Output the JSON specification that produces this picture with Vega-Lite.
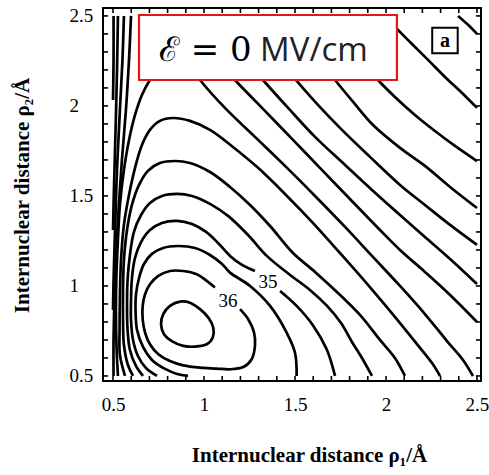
{
"$schema": "https://vega.github.io/schema/vega-lite/v6.json",
"width": 378, "height": 373,
"autosize": {"type": "none"},
"padding": {"left": 103, "top": 8, "right": 8, "bottom": 94},
"background": "white",
"config": {"view": {"stroke": "black", "strokeWidth": 2}},
"datasets": {
"ticks": [{"v":0.5},{"v":0.6},{"v":0.7},{"v":0.8},{"v":0.9},{"v":1.0},{"v":1.1},{"v":1.2},{"v":1.3},{"v":1.4},{"v":1.5},{"v":1.6},{"v":1.7},{"v":1.8},{"v":1.9},{"v":2.0},{"v":2.1},{"v":2.2},{"v":2.3},{"v":2.4},{"v":2.5}],
"loop": [
{"i":0,"x":0.764,"y":0.787},{"i":1,"x":0.776,"y":0.843},{"i":2,"x":0.813,"y":0.889},{"i":3,"x":0.868,"y":0.913},{"i":4,"x":0.923,"y":0.907},{"i":5,"x":0.978,"y":0.871},{"i":6,"x":1.024,"y":0.824},{"i":7,"x":1.051,"y":0.768},{"i":8,"x":1.048,"y":0.713},{"i":9,"x":1.015,"y":0.676},{"i":10,"x":0.951,"y":0.663},{"i":11,"x":0.886,"y":0.667},{"i":12,"x":0.823,"y":0.694},{"i":13,"x":0.780,"y":0.732}
],
"lines": [
{"c":"C2","i":0,"x":1.060,"y":0.991},{"c":"C2","i":1,"x":1.015,"y":1.028},{"c":"C2","i":2,"x":0.960,"y":1.065},{"c":"C2","i":3,"x":0.886,"y":1.083},{"c":"C2","i":4,"x":0.813,"y":1.083},{"c":"C2","i":5,"x":0.749,"y":1.056},{"c":"C2","i":6,"x":0.703,"y":1.009},{"c":"C2","i":7,"x":0.676,"y":0.954},{"c":"C2","i":8,"x":0.663,"y":0.889},{"c":"C2","i":9,"x":0.663,"y":0.815},{"c":"C2","i":10,"x":0.676,"y":0.741},{"c":"C2","i":11,"x":0.703,"y":0.676},{"c":"C2","i":12,"x":0.749,"y":0.621},{"c":"C2","i":13,"x":0.813,"y":0.583},{"c":"C2","i":14,"x":0.886,"y":0.559},{"c":"C2","i":15,"x":0.978,"y":0.546},{"c":"C2","i":16,"x":1.070,"y":0.541},{"c":"C2","i":17,"x":1.143,"y":0.537},{"c":"C2","i":18,"x":1.216,"y":0.550},{"c":"C2","i":19,"x":1.262,"y":0.593},{"c":"C2","i":20,"x":1.280,"y":0.667},{"c":"C2","i":21,"x":1.275,"y":0.741},{"c":"C2","i":22,"x":1.243,"y":0.815},{"c":"C2","i":23,"x":1.198,"y":0.871},
{"c":"C3","i":0,"x":0.912,"y":0.500},{"c":"C3","i":1,"x":0.852,"y":0.511},{"c":"C3","i":2,"x":0.786,"y":0.539},{"c":"C3","i":3,"x":0.714,"y":0.589},{"c":"C3","i":4,"x":0.665,"y":0.661},{"c":"C3","i":5,"x":0.632,"y":0.756},{"c":"C3","i":6,"x":0.624,"y":0.856},{"c":"C3","i":7,"x":0.626,"y":0.950},{"c":"C3","i":8,"x":0.643,"y":1.044},{"c":"C3","i":9,"x":0.670,"y":1.122},{"c":"C3","i":10,"x":0.714,"y":1.178},{"c":"C3","i":11,"x":0.775,"y":1.211},{"c":"C3","i":12,"x":0.857,"y":1.222},{"c":"C3","i":13,"x":0.951,"y":1.211},{"c":"C3","i":14,"x":1.033,"y":1.172},{"c":"C3","i":15,"x":1.099,"y":1.122},{"c":"C3","i":16,"x":1.143,"y":1.074},{"c":"C3","i":17,"x":1.253,"y":1.000},{"c":"C3","i":18,"x":1.363,"y":0.889},{"c":"C3","i":19,"x":1.454,"y":0.741},{"c":"C3","i":20,"x":1.500,"y":0.629},{"c":"C3","i":21,"x":1.509,"y":0.500},
{"c":"C4a","i":0,"x":0.742,"y":0.500},{"c":"C4a","i":1,"x":0.681,"y":0.544},{"c":"C4a","i":2,"x":0.637,"y":0.611},{"c":"C4a","i":3,"x":0.610,"y":0.700},{"c":"C4a","i":4,"x":0.599,"y":0.811},{"c":"C4a","i":5,"x":0.599,"y":0.922},{"c":"C4a","i":6,"x":0.604,"y":1.044},{"c":"C4a","i":7,"x":0.621,"y":1.156},{"c":"C4a","i":8,"x":0.654,"y":1.244},{"c":"C4a","i":9,"x":0.703,"y":1.311},{"c":"C4a","i":10,"x":0.769,"y":1.350},{"c":"C4a","i":11,"x":0.852,"y":1.361},{"c":"C4a","i":12,"x":0.934,"y":1.344},{"c":"C4a","i":13,"x":1.011,"y":1.300},{"c":"C4a","i":14,"x":1.077,"y":1.239},{"c":"C4a","i":15,"x":1.143,"y":1.167},{"c":"C4a","i":16,"x":1.209,"y":1.117},{"c":"C4a","i":17,"x":1.280,"y":1.083},
{"c":"C4b","i":0,"x":1.418,"y":0.972},{"c":"C4b","i":1,"x":1.509,"y":0.889},{"c":"C4b","i":2,"x":1.601,"y":0.778},{"c":"C4b","i":3,"x":1.674,"y":0.648},{"c":"C4b","i":4,"x":1.720,"y":0.500},
{"c":"C5","i":0,"x":0.665,"y":0.500},{"c":"C5","i":1,"x":0.626,"y":0.556},{"c":"C5","i":2,"x":0.593,"y":0.644},{"c":"C5","i":3,"x":0.580,"y":0.756},{"c":"C5","i":4,"x":0.577,"y":0.894},{"c":"C5","i":5,"x":0.580,"y":1.033},{"c":"C5","i":6,"x":0.593,"y":1.172},{"c":"C5","i":7,"x":0.615,"y":1.300},{"c":"C5","i":8,"x":0.654,"y":1.394},{"c":"C5","i":9,"x":0.703,"y":1.461},{"c":"C5","i":10,"x":0.769,"y":1.500},{"c":"C5","i":11,"x":0.852,"y":1.511},{"c":"C5","i":12,"x":0.934,"y":1.500},{"c":"C5","i":13,"x":1.033,"y":1.456},{"c":"C5","i":14,"x":1.132,"y":1.389},{"c":"C5","i":15,"x":1.242,"y":1.283},{"c":"C5","i":16,"x":1.345,"y":1.167},{"c":"C5","i":17,"x":1.473,"y":1.061},{"c":"C5","i":18,"x":1.582,"y":0.978},{"c":"C5","i":19,"x":1.676,"y":0.889},{"c":"C5","i":20,"x":1.753,"y":0.794},{"c":"C5","i":21,"x":1.813,"y":0.689},{"c":"C5","i":22,"x":1.868,"y":0.600},{"c":"C5","i":23,"x":1.923,"y":0.500},
{"c":"C6","i":0,"x":0.610,"y":0.500},{"c":"C6","i":1,"x":0.582,"y":0.561},{"c":"C6","i":2,"x":0.560,"y":0.672},{"c":"C6","i":3,"x":0.555,"y":0.811},{"c":"C6","i":4,"x":0.555,"y":0.978},{"c":"C6","i":5,"x":0.560,"y":1.144},{"c":"C6","i":6,"x":0.577,"y":1.311},{"c":"C6","i":7,"x":0.604,"y":1.450},{"c":"C6","i":8,"x":0.643,"y":1.561},{"c":"C6","i":9,"x":0.692,"y":1.639},{"c":"C6","i":10,"x":0.758,"y":1.683},{"c":"C6","i":11,"x":0.841,"y":1.694},{"c":"C6","i":12,"x":0.923,"y":1.683},{"c":"C6","i":13,"x":1.033,"y":1.633},{"c":"C6","i":14,"x":1.143,"y":1.550},{"c":"C6","i":15,"x":1.253,"y":1.450},{"c":"C6","i":16,"x":1.363,"y":1.333},{"c":"C6","i":17,"x":1.489,"y":1.183},{"c":"C6","i":18,"x":1.610,"y":1.078},{"c":"C6","i":19,"x":1.736,"y":0.961},{"c":"C6","i":20,"x":1.857,"y":0.839},{"c":"C6","i":21,"x":1.967,"y":0.700},{"c":"C6","i":22,"x":2.049,"y":0.600},{"c":"C6","i":23,"x":2.104,"y":0.500},
{"c":"C7","i":0,"x":0.566,"y":0.500},{"c":"C7","i":1,"x":0.538,"y":0.617},{"c":"C7","i":2,"x":0.536,"y":0.756},{"c":"C7","i":3,"x":0.538,"y":0.950},{"c":"C7","i":4,"x":0.544,"y":1.144},{"c":"C7","i":5,"x":0.560,"y":1.339},{"c":"C7","i":6,"x":0.588,"y":1.506},{"c":"C7","i":7,"x":0.621,"y":1.656},{"c":"C7","i":8,"x":0.659,"y":1.783},{"c":"C7","i":9,"x":0.703,"y":1.867},{"c":"C7","i":10,"x":0.758,"y":1.917},{"c":"C7","i":11,"x":0.830,"y":1.933},{"c":"C7","i":12,"x":0.923,"y":1.917},{"c":"C7","i":13,"x":1.033,"y":1.867},{"c":"C7","i":14,"x":1.159,"y":1.772},{"c":"C7","i":15,"x":1.297,"y":1.656},{"c":"C7","i":16,"x":1.445,"y":1.511},{"c":"C7","i":17,"x":1.593,"y":1.356},{"c":"C7","i":18,"x":1.747,"y":1.183},{"c":"C7","i":19,"x":1.901,"y":1.006},{"c":"C7","i":20,"x":2.077,"y":0.794},{"c":"C7","i":21,"x":2.187,"y":0.656},{"c":"C7","i":22,"x":2.253,"y":0.572},{"c":"C7","i":23,"x":2.297,"y":0.500},
{"c":"C8","i":0,"x":0.527,"y":0.500},{"c":"C8","i":1,"x":0.519,"y":0.672},{"c":"C8","i":2,"x":0.516,"y":0.867},{"c":"C8","i":3,"x":0.519,"y":1.061},{"c":"C8","i":4,"x":0.527,"y":1.256},{"c":"C8","i":5,"x":0.538,"y":1.450},{"c":"C8","i":6,"x":0.560,"y":1.644},{"c":"C8","i":7,"x":0.588,"y":1.811},{"c":"C8","i":8,"x":0.621,"y":1.950},{"c":"C8","i":9,"x":0.659,"y":2.061},{"c":"C8","i":10,"x":0.703,"y":2.144},{"c":"C8","i":11,"x":0.758,"y":2.217},{"c":"C8","i":12,"x":0.841,"y":2.256},{"c":"C8","i":13,"x":0.923,"y":2.222},{"c":"C8","i":14,"x":0.978,"y":2.144},{"c":"C8","i":15,"x":1.115,"y":1.989},{"c":"C8","i":16,"x":1.280,"y":1.828},{"c":"C8","i":17,"x":1.445,"y":1.667},{"c":"C8","i":18,"x":1.610,"y":1.500},{"c":"C8","i":19,"x":1.775,"y":1.328},{"c":"C8","i":20,"x":1.923,"y":1.167},{"c":"C8","i":21,"x":2.077,"y":1.000},{"c":"C8","i":22,"x":2.214,"y":0.844},{"c":"C8","i":23,"x":2.335,"y":0.694},{"c":"C8","i":24,"x":2.423,"y":0.589},{"c":"C8","i":25,"x":2.478,"y":0.500},
{"c":"R7","i":0,"x":1.132,"y":2.189},{"c":"R7","i":1,"x":1.170,"y":2.144},{"c":"R7","i":2,"x":1.308,"y":2.000},{"c":"R7","i":3,"x":1.473,"y":1.828},{"c":"R7","i":4,"x":1.637,"y":1.656},{"c":"R7","i":5,"x":1.802,"y":1.483},{"c":"R7","i":6,"x":1.967,"y":1.311},{"c":"R7","i":7,"x":2.077,"y":1.200},{"c":"R7","i":8,"x":2.214,"y":1.078},{"c":"R7","i":9,"x":2.352,"y":0.950},{"c":"R7","i":10,"x":2.500,"y":0.800},
{"c":"R6","i":0,"x":1.286,"y":2.189},{"c":"R6","i":1,"x":1.324,"y":2.144},{"c":"R6","i":2,"x":1.462,"y":1.989},{"c":"R6","i":3,"x":1.610,"y":1.828},{"c":"R6","i":4,"x":1.775,"y":1.672},{"c":"R6","i":5,"x":1.923,"y":1.533},{"c":"R6","i":6,"x":2.077,"y":1.394},{"c":"R6","i":7,"x":2.214,"y":1.272},{"c":"R6","i":8,"x":2.352,"y":1.150},{"c":"R6","i":9,"x":2.500,"y":1.011},
{"c":"R5","i":0,"x":1.467,"y":2.189},{"c":"R5","i":1,"x":1.505,"y":2.144},{"c":"R5","i":2,"x":1.626,"y":2.006},{"c":"R5","i":3,"x":1.758,"y":1.867},{"c":"R5","i":4,"x":1.912,"y":1.717},{"c":"R5","i":5,"x":2.077,"y":1.561},{"c":"R5","i":6,"x":2.214,"y":1.450},{"c":"R5","i":7,"x":2.352,"y":1.339},{"c":"R5","i":8,"x":2.500,"y":1.228},
{"c":"R4","i":0,"x":1.687,"y":2.189},{"c":"R4","i":1,"x":1.720,"y":2.144},{"c":"R4","i":2,"x":1.824,"y":2.017},{"c":"R4","i":3,"x":1.929,"y":1.894},{"c":"R4","i":4,"x":2.077,"y":1.767},{"c":"R4","i":5,"x":2.214,"y":1.667},{"c":"R4","i":6,"x":2.352,"y":1.550},{"c":"R4","i":7,"x":2.500,"y":1.433},
{"c":"R3","i":0,"x":1.918,"y":2.189},{"c":"R3","i":1,"x":1.956,"y":2.144},{"c":"R3","i":2,"x":2.049,"y":2.050},{"c":"R3","i":3,"x":2.159,"y":1.950},{"c":"R3","i":4,"x":2.269,"y":1.861},{"c":"R3","i":5,"x":2.379,"y":1.778},{"c":"R3","i":6,"x":2.500,"y":1.694},
{"c":"R2","i":0,"x":2.022,"y":2.467},{"c":"R2","i":1,"x":2.066,"y":2.422},{"c":"R2","i":2,"x":2.143,"y":2.344},{"c":"R2","i":3,"x":2.231,"y":2.256},{"c":"R2","i":4,"x":2.324,"y":2.161},{"c":"R2","i":5,"x":2.418,"y":2.072},{"c":"R2","i":6,"x":2.500,"y":1.989},
{"c":"R1","i":0,"x":2.396,"y":2.500},{"c":"R1","i":1,"x":2.445,"y":2.456},{"c":"R1","i":2,"x":2.500,"y":2.400},
{"c":"W4","i":0,"x":0.599,"y":2.500},{"c":"W4","i":1,"x":0.588,"y":2.256},{"c":"W4","i":2,"x":0.571,"y":1.978},{"c":"W4","i":3,"x":0.549,"y":1.700},{"c":"W4","i":4,"x":0.530,"y":1.422},{"c":"W4","i":5,"x":0.516,"y":1.144},{"c":"W4","i":6,"x":0.508,"y":0.922},{"c":"W4","i":7,"x":0.503,"y":0.700},{"c":"W4","i":8,"x":0.503,"y":0.500},
{"c":"W3","i":0,"x":0.560,"y":2.500},{"c":"W3","i":1,"x":0.552,"y":2.256},{"c":"W3","i":2,"x":0.538,"y":1.978},{"c":"W3","i":3,"x":0.522,"y":1.644},{"c":"W3","i":4,"x":0.511,"y":1.311},{"c":"W3","i":5,"x":0.503,"y":1.033},{"c":"W3","i":6,"x":0.500,"y":0.867},
{"c":"W2","i":0,"x":0.527,"y":2.500},{"c":"W2","i":1,"x":0.522,"y":2.200},{"c":"W2","i":2,"x":0.514,"y":1.867},{"c":"W2","i":3,"x":0.505,"y":1.533},{"c":"W2","i":4,"x":0.500,"y":1.311},
{"c":"W1","i":0,"x":0.503,"y":2.500},{"c":"W1","i":1,"x":0.503,"y":2.256},{"c":"W1","i":2,"x":0.500,"y":2.033}
],
"labels": [
{"x":1.132,"y":0.917,"t":"36"},
{"x":1.352,"y":1.022,"t":"35"}
],
"box": [{"x1":0.643,"x2":2.060,"y1":2.505,"y2":2.144}],
"title": [
{"x":0.752,"y":2.25,"t":"ℰ = 0","f":"math"},
{"x":1.308,"y":2.25,"t":"MV/cm","f":"unit"}
],
"tag": [{"x":2.324,"y":2.364,"t":"a"}]
},
"resolve": {"axis": {"x": "independent", "y": "independent"}},
"layer": [
{
"data": {"name": "lines"},
"mark": {"type": "line", "interpolate": "catmull-rom", "stroke": "black", "strokeWidth": 2.7, "clip": true},
"encoding": {
"x": {"field": "x", "type": "quantitative", "scale": {"domain": [0.445, 2.522], "nice": false, "zero": false},
"axis": {"orient": "bottom", "values": [0.5,1,1.5,2,2.5], "format": "~g", "ticks": false, "domain": false, "grid": false, "labelOverlap": false, "labelFlush": false,
"labelFont": "Liberation Serif", "labelFontSize": 19, "labelColor": "black", "labelPadding": 14,
"title": "Internuclear distance ρ₁/Å", "titleFont": "Liberation Serif", "titleFontSize": 21, "titleFontWeight": "bold", "titleColor": "black",
"titleX": 206, "titleY": 74, "titleBaseline": "middle"}},
"y": {"field": "y", "type": "quantitative", "scale": {"domain": [0.472, 2.544], "nice": false, "zero": false},
"axis": {"orient": "left", "values": [0.5,1,1.5,2,2.5], "format": "~g", "ticks": false, "domain": false, "grid": false, "labelOverlap": false, "labelFlush": false,
"labelFont": "Liberation Serif", "labelFontSize": 19, "labelColor": "black", "labelAlign": "left", "labelBaseline": "middle", "labelPadding": 34,
"title": "Internuclear distance ρ₂/Å", "titleFont": "Liberation Serif", "titleFontSize": 21, "titleFontWeight": "bold", "titleColor": "black",
"titleX": -81, "titleY": 187, "titleAngle": -90, "titleAlign": "center", "titleBaseline": "middle"}},
"detail": {"field": "c"},
"order": {"field": "i", "type": "quantitative"}
}
},
{
"data": {"name": "loop"},
"mark": {"type": "line", "interpolate": "cardinal-closed", "stroke": "black", "strokeWidth": 2.7},
"encoding": {
"x": {"field": "x", "type": "quantitative", "axis": null},
"y": {"field": "y", "type": "quantitative", "axis": null},
"order": {"field": "i", "type": "quantitative"}
}
},
{
"data": {"name": "box"},
"mark": {"type": "rect", "fill": "white", "stroke": "#e3161c", "strokeWidth": 2.2},
"encoding": {
"x": {"field": "x1", "type": "quantitative", "axis": null},
"x2": {"field": "x2"},
"y": {"field": "y1", "type": "quantitative", "axis": null},
"y2": {"field": "y2"}
}
},
{
"data": {"name": "title"},
"transform": [{"filter": "datum.f == 'math'"}],
"mark": {"type": "text", "font": "DejaVu Serif", "fontSize": 34, "align": "left", "baseline": "alphabetic", "color": "black"},
"encoding": {
"x": {"field": "x", "type": "quantitative", "axis": null},
"y": {"field": "y", "type": "quantitative", "axis": null},
"text": {"field": "t"}
}
},
{
"data": {"name": "title"},
"transform": [{"filter": "datum.f == 'unit'"}],
"mark": {"type": "text", "font": "Open Sans", "fontSize": 33, "align": "left", "baseline": "alphabetic", "color": "#222222"},
"encoding": {
"x": {"field": "x", "type": "quantitative", "axis": null},
"y": {"field": "y", "type": "quantitative", "axis": null},
"text": {"field": "t"}
}
},
{
"data": {"name": "tag"},
"mark": {"type": "point", "shape": "square", "size": 650, "filled": true, "fill": "white", "stroke": "black", "strokeWidth": 2, "opacity": 1},
"encoding": {
"x": {"field": "x", "type": "quantitative", "axis": null},
"y": {"field": "y", "type": "quantitative", "axis": null}
}
},
{
"data": {"name": "tag"},
"mark": {"type": "text", "font": "Liberation Serif", "fontSize": 20, "fontWeight": "bold", "align": "center", "baseline": "middle", "dy": 1, "color": "black"},
"encoding": {
"x": {"field": "x", "type": "quantitative", "axis": null},
"y": {"field": "y", "type": "quantitative", "axis": null},
"text": {"field": "t"}
}
},
{
"data": {"name": "labels"},
"mark": {"type": "text", "font": "Liberation Serif", "fontSize": 19, "align": "center", "baseline": "middle", "color": "black"},
"encoding": {
"x": {"field": "x", "type": "quantitative", "axis": null},
"y": {"field": "y", "type": "quantitative", "axis": null},
"text": {"field": "t"}
}
},
{
"data": {"name": "ticks"},
"mark": {"type": "rule", "stroke": "black", "strokeWidth": 1.6},
"encoding": {
"x": {"field": "v", "type": "quantitative", "axis": null},
"y": {"datum": 0.472, "type": "quantitative", "axis": null},
"y2": {"datum": 0.500}
}
},
{
"data": {"name": "ticks"},
"mark": {"type": "rule", "stroke": "black", "strokeWidth": 1.6},
"encoding": {
"x": {"field": "v", "type": "quantitative", "axis": null},
"y": {"datum": 2.544, "type": "quantitative", "axis": null},
"y2": {"datum": 2.516}
}
},
{
"data": {"name": "ticks"},
"mark": {"type": "rule", "stroke": "black", "strokeWidth": 1.6},
"encoding": {
"y": {"field": "v", "type": "quantitative", "axis": null},
"x": {"datum": 0.445, "type": "quantitative", "axis": null},
"x2": {"datum": 0.473}
}
},
{
"data": {"name": "ticks"},
"mark": {"type": "rule", "stroke": "black", "strokeWidth": 1.6},
"encoding": {
"y": {"field": "v", "type": "quantitative", "axis": null},
"x": {"datum": 2.522, "type": "quantitative", "axis": null},
"x2": {"datum": 2.494}
}
}
]
}
